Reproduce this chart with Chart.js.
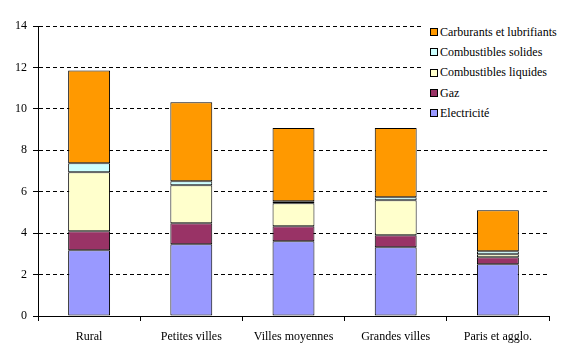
<!DOCTYPE html>
<html>
<head>
<meta charset="utf-8">
<script src="https://cdn.jsdelivr.net/npm/chart.js@4/dist/chart.umd.min.js"></script>
<style>
    html, body { margin: 0; padding: 0; background: #fff; }
    #wrap { position: relative; width: 583px; height: 359px; }
    #legend {
        position: absolute; left: 424px; top: 21px; width: 136px;
        background: #fff; font-family: 'Liberation Serif'; font-size: 12px;
        color: #000; padding: 1px 0 1px 6px; white-space: nowrap;
    }
    .item { height: 20.3px; display: flex; align-items: center; }
    .box { width: 6px; height: 6px; border: 1px solid #000; margin-right: 2px; flex: none; }
</style>
</head>
<body>
<div id="wrap">
    <canvas id="chart" width="583" height="359"></canvas>
    <div id="legend"></div>
</div>
<script>
const categories = ['Rural', 'Petites villes', 'Villes moyennes', 'Grandes villes', 'Paris et agglo.'];
const electricite = [3.17, 3.46, 3.61, 3.32, 2.50];
const gaz = [0.92, 1.02, 0.72, 0.58, 0.34];
const combLiquides = [2.85, 1.83, 1.11, 1.69, 0.14];
const combSolides = [0.44, 0.20, 0.10, 0.14, 0.14];
const carburants = [4.47, 3.81, 3.53, 3.34, 1.98];
const yTicks = [0, 2, 4, 6, 8, 10, 12, 14];

const series = [
    { label: 'Electricité', data: electricite, color: '#9999FF' },
    { label: 'Gaz', data: gaz, color: '#993366' },
    { label: 'Combustibles liquides', data: combLiquides, color: '#FFFFCC' },
    { label: 'Combustibles solides', data: combSolides, color: '#CCFFFF' },
    { label: 'Carburants et lubrifiants', data: carburants, color: '#FF9900' }
];

const font = { family: 'Liberation Serif', size: 12 };

function draw() {
    new Chart(document.getElementById('chart'), {
        type: 'bar',
        data: {
            labels: categories,
            datasets: series.map(s => ({
                label: s.label,
                data: s.data,
                backgroundColor: s.color,
                borderColor: '#000',
                borderWidth: 1,
                borderSkipped: false,
                categoryPercentage: 1,
                barPercentage: 0.41
            }))
        },
        options: {
            responsive: false,
            animation: false,
            layout: { padding: { top: 26, right: 34, left: 0, bottom: 0 } },
            plugins: { legend: { display: false }, tooltip: { enabled: false } },
            scales: {
                x: {
                    stacked: true,
                    offset: true,
                    grid: {
                        offset: true, drawOnChartArea: false, drawTicks: true,
                        tickLength: 5, tickColor: '#000'
                    },
                    border: { color: '#000', width: 1 },
                    ticks: { color: '#000', font: font, padding: 9, maxRotation: 0 },
                    afterFit: s => { s.height = 43; }
                },
                y: {
                    stacked: true,
                    min: 0, max: 14,
                    afterBuildTicks: s => { s.ticks = yTicks.map(v => ({ value: v })); },
                    grid: {
                        color: ctx => ctx.tick && ctx.tick.value === 0 ? 'rgba(0,0,0,0)' : '#000',
                        tickBorderDash: [],
                        tickColor: '#000',
                        tickLength: 5
                    },
                    border: { color: '#000', width: 1, dash: [4, 3] },
                    ticks: { color: '#000', font: font, padding: 6 },
                    afterFit: s => { s.width = 38; }
                }
            }
        }
    });
}

// légende HTML (ordre inversé comme dans Excel)
const legend = document.getElementById('legend');
series.slice().reverse().forEach(s => {
    const item = document.createElement('div');
    item.className = 'item';
    const box = document.createElement('span');
    box.className = 'box';
    box.style.backgroundColor = s.color;
    const txt = document.createElement('span');
    txt.textContent = s.label;
    item.appendChild(box);
    item.appendChild(txt);
    legend.appendChild(item);
});

document.fonts.load('12px "Liberation Serif"').then(draw, draw);
</script>
</body>
</html>
